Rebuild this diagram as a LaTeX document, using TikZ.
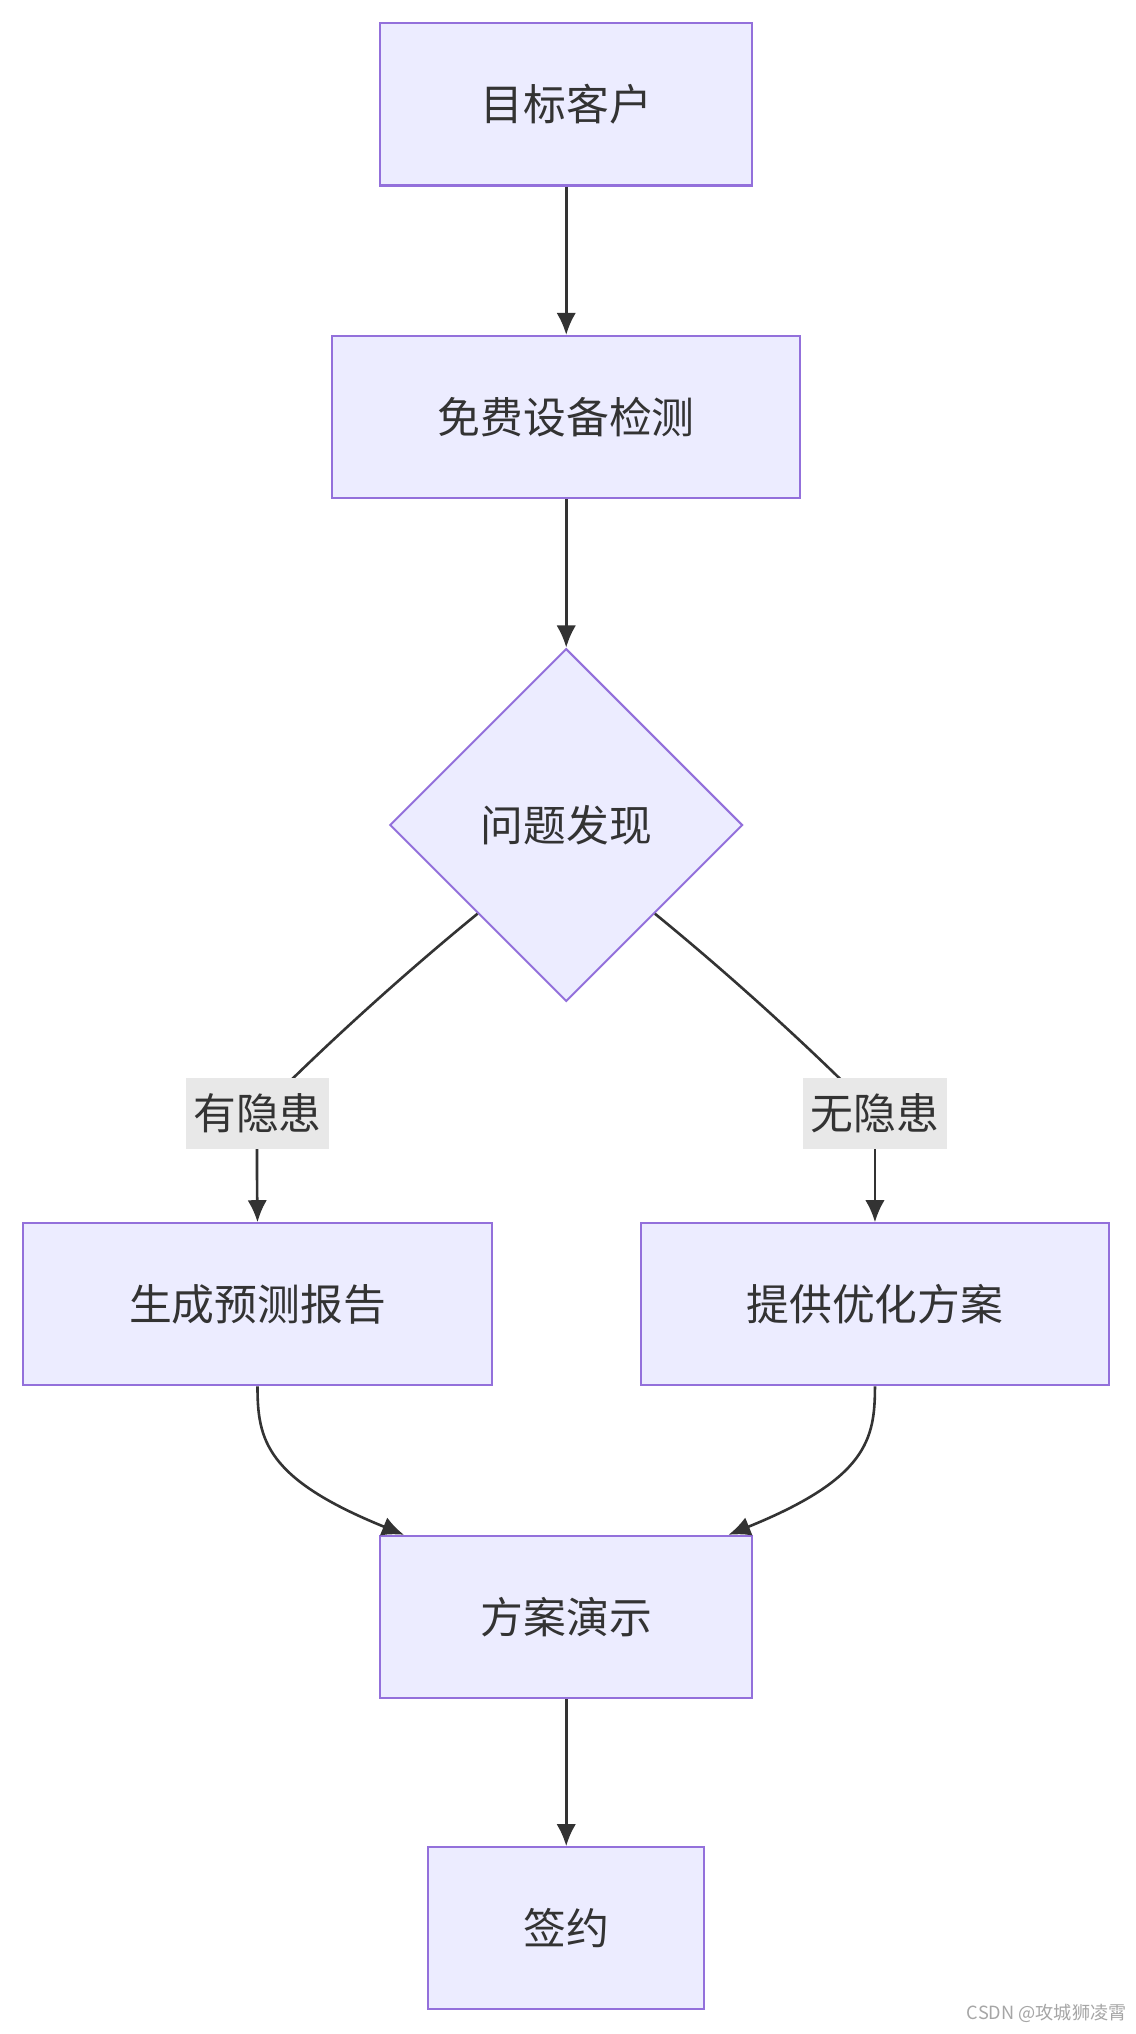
\documentclass[tikz,border=0pt]{standalone}
\usepackage{fontspec}
\setmainfont{Noto Sans CJK SC}
\usetikzlibrary{shapes.geometric,arrows.meta,calc}
\definecolor{nfill}{HTML}{ECECFF}
\definecolor{nstroke}{HTML}{9370DB}
\definecolor{edge}{HTML}{333333}
\definecolor{lbg}{HTML}{E8E8E8}
\begin{document}
\begin{tikzpicture}[x=1pt,y=-1pt,
  box/.style={draw=nstroke,fill=nfill,line width=1.6pt,minimum height=125pt,inner sep=0pt,font=\fontsize{33}{38}\selectfont,text=edge},
  dia/.style={diamond,draw=nstroke,fill=nfill,line width=1.6pt,minimum width=272pt,minimum height=272pt,inner sep=0pt,font=\fontsize{33}{38}\selectfont,text=edge},
  lab/.style={fill=lbg,minimum width=111pt,minimum height=55pt,inner sep=0pt,font=\fontsize{33}{38}\selectfont,text=edge},
  arr/.style={draw=edge,line width=2pt,-{Latex[length=17pt,width=15pt]}},
  ln/.style={draw=edge,line width=2pt}]
\useasboundingbox[fill=white] (0,0) rectangle (875,1568);
\node[box,minimum width=287pt] (a) at (436.5,80.5) {目标客户};
\node[box,minimum width=361pt] (b) at (436.5,321.5) {免费设备检测};
\node[dia] (d) at (436.5,636) {问题发现};
\node[box,minimum width=361pt] (g1) at (198.5,1005.5) {生成预测报告};
\node[box,minimum width=361pt] (g2) at (674.5,1005.5) {提供优化方案};
\node[box,minimum width=287pt] (e) at (436.5,1246.5) {方案演示};
\node[box,minimum width=213pt] (f) at (436.5,1486.5) {签约};
\coordinate (l1) at (198.5,858.5);
\coordinate (l2) at (674.5,858.5);
\draw[arr] (a) -- (b);
\draw[arr] (b) -- (d);
\draw[ln] (d.south west) .. controls (300,760) and (236,820) .. (l1);
\draw[arr] (l1) .. controls (198,880) and (198,900) .. (g1.north);
\draw[ln] (d.south east) .. controls (573,760) and (637,820) .. (l2);
\draw[arr] (l2) .. controls (674.5,880) and (674.5,900) .. (g2.north);
\draw[arr] (g1.south) .. controls (198.5,1110) and (205,1140) .. ($(e.north)+(-125,0)$);
\draw[arr] (g2.south) .. controls (674.5,1110) and (668,1140) .. ($(e.north)+(125,0)$);
\draw[arr] (e) -- (f);
\node[lab] (lab1) at (l1) {有隐患};
\node[lab] (lab2) at (l2) {无隐患};
\node[anchor=east,text=gray!70,font=\fontsize{14}{16}\selectfont] (wm) at (872,1552) {CSDN @攻城狮凌霄};
\end{tikzpicture}
\end{document}
